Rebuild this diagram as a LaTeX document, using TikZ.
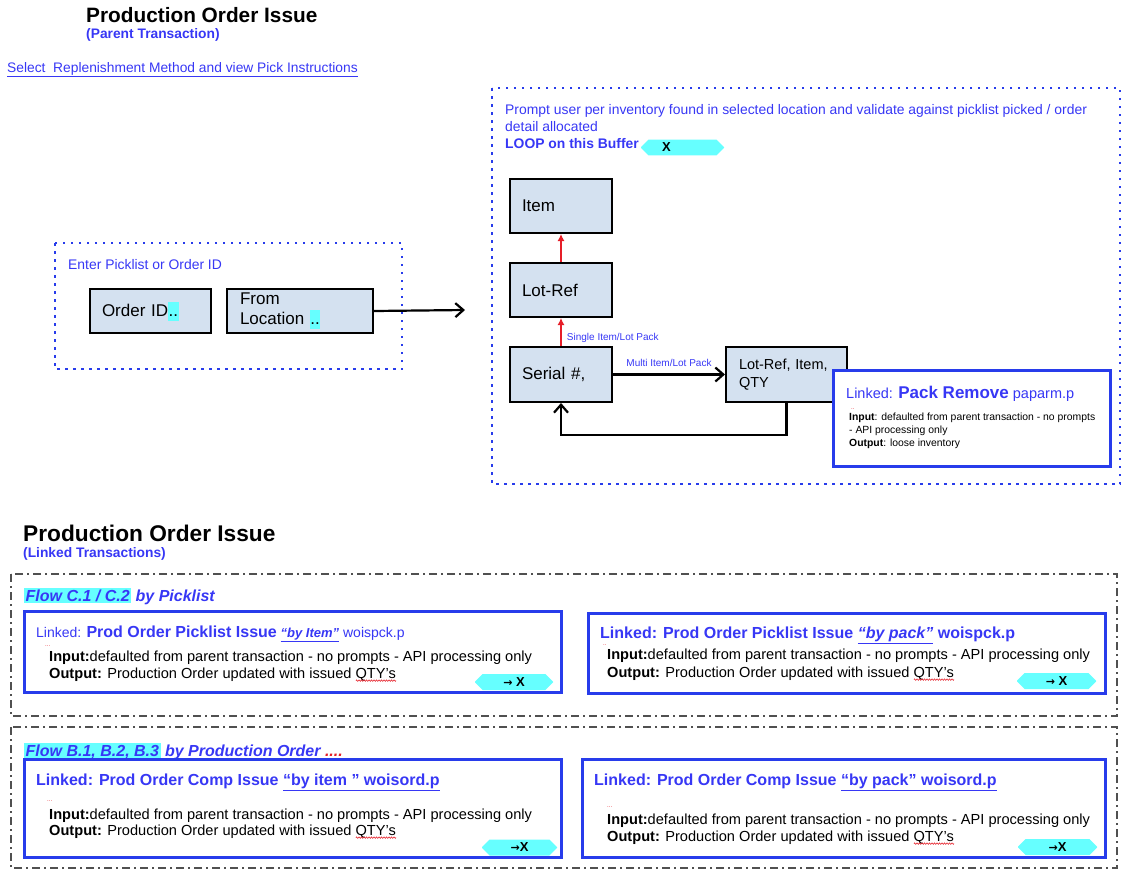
\documentclass[tikz,border=0pt]{standalone}
\usepackage{fontspec}
\setmainfont{Liberation Sans}
\newfontfamily\arrowfont{DejaVu Sans}
\usetikzlibrary{arrows.meta, shapes.misc, decorations.pathmorphing}
\definecolor{linkblue}{RGB}{55,55,245}
\definecolor{frameblue}{RGB}{40,60,235}
\definecolor{fieldfill}{RGB}{212,225,240}
\definecolor{chipcyan}{RGB}{102,255,255}
\definecolor{framegray}{RGB}{80,80,80}
\definecolor{arrowred}{RGB}{230,30,40}
\newcommand{\fsz}[1]{\fontsize{#1}{1.2\dimexpr#1pt\relax}\selectfont}
\newcommand{\hl}[1]{{\setlength{\fboxsep}{1.5pt}\colorbox{chipcyan}{#1}}}
\newcommand{\hlbar}[1]{{\setlength{\fboxsep}{0.5pt}\colorbox{chipcyan}{\rule[-4pt]{0pt}{18pt}#1}}}
\newcommand{\toarrow}{{\arrowfont\fsz{11}→}}
\newcommand{\squig}[1]{\setbox0=\hbox{#1}\rlap{\copy0}\raisebox{-2.6pt}{\tikz[x=1pt,y=1pt,baseline=0pt]\draw[arrowred, line width=0.5pt, decorate, decoration={zigzag, amplitude=0.8pt, segment length=2.5pt}] (0,0) -- (\the\wd0,0);}}

\begin{document}
\begin{tikzpicture}[x=1pt, y=-1pt, >=Stealth,
  fieldbox/.style={draw=black, line width=2pt, fill=fieldfill, anchor=north west,
    align=left, inner ysep=0pt, font=\fsz{17}},
  linkbox/.style={draw=frameblue, line width=2.5pt, fill=white, anchor=north west, inner sep=0pt},
  dotframe/.style={draw=frameblue, line width=2.5pt, dash pattern=on 2.5pt off 5.5pt},
  dashframe/.style={draw=framegray, line width=2pt, dash pattern=on 8pt off 4pt on 2pt off 4pt},
  chip/.style={chamfered rectangle, chamfered rectangle xsep=4pt, fill=chipcyan,
    inner sep=0pt, minimum height=12pt, font=\bfseries\fsz{13}},
  lbl/.style={anchor=base west, inner sep=0pt},
  iotext/.style={lbl, font=\fsz{14.6}},
  reddots/.style={lbl, text=arrowred, font=\fsz{6}},
  flowarrow/.style={-{Straight Barb[length=8pt,width=14pt]}, line width=2.2pt},
  redarrow/.style={-{Latex[length=7pt,width=7pt]}, draw=arrowred, line width=1.2pt}
]
  \useasboundingbox (0,0) rectangle (1123,871);

  % Parent transaction heading
  \node[lbl, font=\bfseries\fsz{20.8}] (parent-title) at (86,22) {Production Order Issue};
  \node[lbl, text=linkblue, font=\bfseries\fsz{13.8}] (parent-sub) at (86,38) {(Parent Transaction)};
  \node[lbl, text=linkblue, font=\fsz{13.8}] (select-link) at (7,72) {\underline{Select\ \ Replenishment Method and view Pick Instructions}};

  % Entry frame
  \draw[dotframe] (55,243) rectangle (402,369);
  \node[lbl, text=linkblue, font=\fsz{13.9}] (entry-note) at (68,269) {Enter Picklist or Order ID};
  \node[fieldbox, text width=97pt, inner xsep=12pt, minimum height=44pt] (orderid) at (89,288) {Order ID\hlbar{..}};
  \node[fieldbox, text width=120pt, inner xsep=13pt, minimum height=44pt] (fromloc) at (226,288) {From\\Location \hlbar{..}};
  \coordinate (loopin) at (465,310);
  \draw[flowarrow] (fromloc.east) -- (loopin);

  % Buffer loop frame
  \draw[dotframe] (492,88) rectangle (1120,484);
  \node[lbl, text=linkblue, font=\fsz{13.9}] (prompt1) at (505,114) {Prompt user per inventory found in selected location and validate against picklist picked / order};
  \node[lbl, text=linkblue, font=\fsz{13.9}] (prompt2) at (505,131) {detail allocated};
  \node[lbl, text=linkblue, font=\bfseries\fsz{13.9}] (loopnote) at (505,148) {LOOP on this Buffer};
  \node[chip, minimum width=83pt] (loopchip) at (682.5,147.5) {X\hspace*{32pt}};

  \node[fieldbox, text width=78pt, inner xsep=12pt, minimum height=54pt] (item) at (509,178) {Item};
  \node[fieldbox, text width=78pt, inner xsep=12pt, minimum height=54pt] (lotref) at (509,262) {Lot-Ref};
  \node[fieldbox, text width=78pt, inner xsep=12pt, minimum height=55pt] (serial) at (509,346) {Serial \#,};
  \node[fieldbox, text width=95pt, inner xsep=13pt, minimum height=55pt, font=\fsz{14.5}] (lrq) at (725,346) {Lot-Ref, Item,\\QTY};

  \draw[redarrow] (lotref.north) -- (item.south);
  \draw[redarrow] (serial.north) -- (lotref.south)
    node[pos=0.3, anchor=west, xshift=2pt, text=linkblue, font=\fsz{10}] (single-lbl) {Single Item/Lot Pack};
  \draw[flowarrow] (serial.east) -- (lrq.west)
    node[midway, above=3pt, text=linkblue, font=\fsz{10}] (multi-lbl) {Multi Item/Lot Pack};
  \draw[flowarrow] (lrq.south) -- ++(0,32) -| (serial.south);

  % Pack remove
  \node[linkbox, minimum width=277pt, minimum height=96pt] (packrm) at (832,369) {};
  \node[lbl, text=linkblue, font=\fsz{14.5}] (packrm-title) at (846,398) {Linked: {\bfseries\fsz{17}Pack Remove} paparm.p};
  \node[reddots] (packrm-dots) at (851,409) {..};
  \node[lbl, font=\fsz{10.4}] (packrm-in) at (849,420) {\textbf{Input}: defaulted from parent transaction - no prompts};
  \node[lbl, font=\fsz{10.4}] (packrm-api) at (849,433) {- API processing only};
  \node[lbl, font=\fsz{10.4}] (packrm-out) at (849,446) {\textbf{Output}: loose inventory};

  % Linked transactions heading
  \node[lbl, font=\bfseries\fsz{22.7}] (linked-title) at (23,541) {Production Order Issue};
  \node[lbl, text=linkblue, font=\bfseries\fsz{13.8}] (linked-sub) at (23,557) {(Linked Transactions)};

  % Flow C: by picklist
  \draw[dashframe] (11,574) rectangle (1117,716);
  \node[lbl, text=linkblue, font=\bfseries\itshape\fsz{16}] (flowc) at (24,601) {\hl{Flow C.1 / C.2} by Picklist};

  \node[linkbox, minimum width=537pt, minimum height=81pt] (pickitem) at (23,610) {};
  \node[lbl, text=linkblue, font=\fsz{14}] (pickitem-title) at (36,637) {Linked: {\bfseries\fsz{16}Prod Order Picklist Issue} {\bfseries\itshape\fsz{13}\underline{“by Item”}} woispck.p};
  \node[reddots] (pickitem-dots) at (45,646) {...};
  \node[iotext] (pickitem-in) at (49,661) {\textbf{Input:}defaulted from parent transaction - no prompts - API processing only};
  \node[iotext] (pickitem-out) at (49,678) {\textbf{Output:} Production Order updated with issued \squig{QTY’s}};
  \node[chip, minimum width=78pt] (pickitem-chip) at (514,682) {\toarrow{} X};

  \node[linkbox, minimum width=517pt, minimum height=80pt] (pickpack) at (587,612) {};
  \node[lbl, text=linkblue, font=\bfseries\fsz{16}] (pickpack-title) at (600,638) {Linked: Prod Order Picklist Issue {\itshape\underline{“by pack”}} woispck.p};
  \node[reddots] (pickpack-dots) at (603,645) {..};
  \node[iotext] (pickpack-in) at (607,659) {\textbf{Input:}defaulted from parent transaction - no prompts - API processing only};
  \node[iotext] (pickpack-out) at (607,677) {\textbf{Output:} Production Order updated with issued \squig{QTY’s}};
  \node[chip, minimum width=79pt] (pickpack-chip) at (1056.5,681) {\toarrow{} X};

  % Flow B: by production order
  \draw[dashframe] (11,727) rectangle (1117,868);
  \node[lbl, text=linkblue, font=\bfseries\itshape\fsz{16}] (flowb) at (24,756) {\hl{Flow B.1, B.2, B.3} by Production Order \textcolor{arrowred}{....}};

  \node[linkbox, minimum width=537pt, minimum height=98pt] (compitem) at (23,758) {};
  \node[lbl, text=linkblue, font=\bfseries\fsz{16}] (compitem-title) at (36,785) {Linked: Prod Order Comp Issue \underline{“by item ” woisord.p}};
  \node[reddots] (compitem-dots) at (47,801) {...};
  \node[iotext] (compitem-in) at (49,819) {\textbf{Input:}defaulted from parent transaction - no prompts - API processing only};
  \node[iotext] (compitem-out) at (49,835) {\textbf{Output:} Production Order updated with issued \squig{QTY’s}};
  \node[chip, minimum width=75pt] (compitem-chip) at (519.5,847.5) {\toarrow X};

  \node[linkbox, minimum width=523pt, minimum height=98pt] (comppack) at (581,758) {};
  \node[lbl, text=linkblue, font=\bfseries\fsz{16}] (comppack-title) at (594,785) {Linked: Prod Order Comp Issue \underline{“by pack” woisord.p}};
  \node[reddots] (comppack-dots) at (607,807) {...};
  \node[iotext] (comppack-in) at (607,824) {\textbf{Input:}defaulted from parent transaction - no prompts - API processing only};
  \node[iotext] (comppack-out) at (607,841) {\textbf{Output:} Production Order updated with issued \squig{QTY’s}};
  \node[chip, minimum width=79pt] (comppack-chip) at (1057.5,847) {\toarrow X};
\end{tikzpicture}
\end{document}
